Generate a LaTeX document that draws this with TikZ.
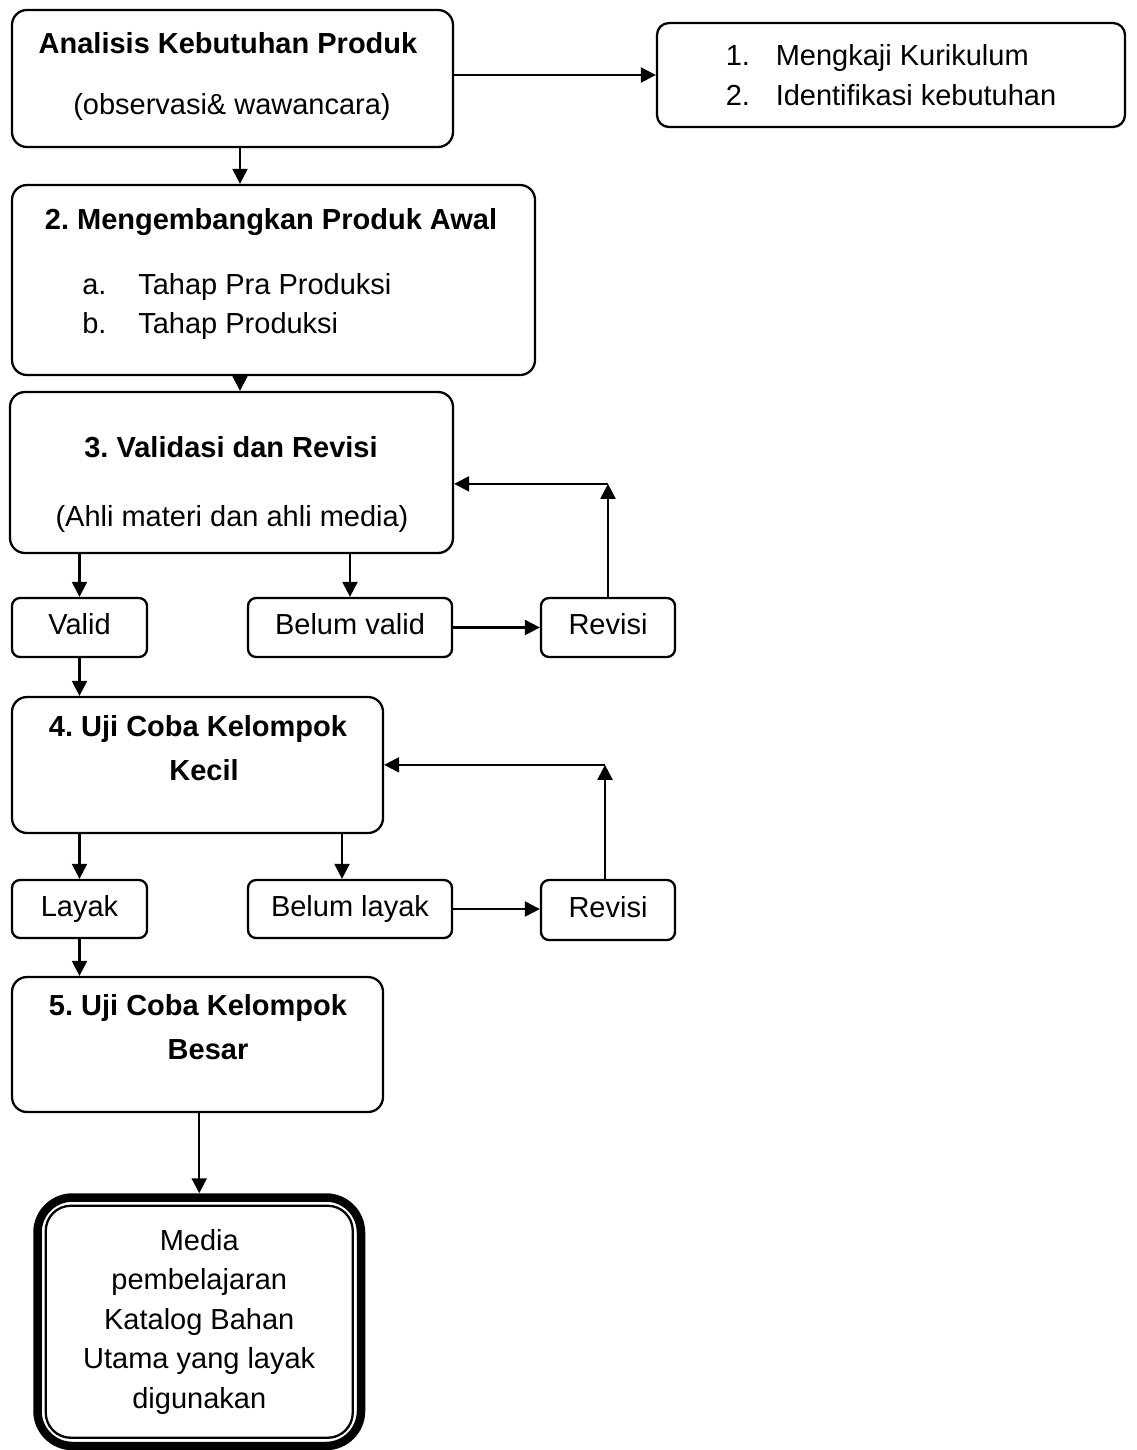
\documentclass[tikz,border=0pt]{standalone}
\usepackage{fontspec}
\setmainfont{Liberation Sans}
\usetikzlibrary{arrows.meta, positioning}

\tikzstyle{bigbox} = [rectangle, rounded corners=0.3cm, draw, line width=1.3pt, inner sep=0pt]
\tikzstyle{smallbox} = [rectangle, rounded corners=0.16cm, draw, line width=1.3pt, inner sep=0pt, text height=12pt, text depth=3.5pt]
\tikzstyle{final} = [rectangle, rounded corners=0.7cm, draw, line width=0.17cm, inner sep=0pt, align=center]
\tikzstyle{txt} = [anchor=base, inner sep=0pt]
\tikzstyle{arr} = [-{Triangle[length=0.3cm,width=0.3cm]}, line width=1.3pt]

\begin{document}
\frenchspacing
\begin{tikzpicture}[font=\fontsize{16.5}{22.5}\selectfont]
  \useasboundingbox (0,0) rectangle (22.74,-29);

  % 1. analisis
  \node[bigbox, minimum width=8.82cm, minimum height=2.74cm] (analisis) at (4.65,-1.57) {};
  \node[txt] (analisis1) at (4.56,-1.06) {\textbf{Analisis Kebutuhan Produk}};
  \node[txt] (analisis2) at (4.64,-2.28) {(observasi\& wawancara)};

  \node[bigbox, minimum width=9.36cm, minimum height=2.08cm, rounded corners=0.24cm, align=left] (kaji) at (17.82,-1.50)
    {\makebox[1cm][l]{1.}Mengkaji Kurikulum\\ \makebox[1cm][l]{2.}Identifikasi kebutuhan};

  % 2. produk awal
  \node[bigbox, minimum width=10.46cm, minimum height=3.80cm] (produk) at (5.47,-5.60) {};
  \node[txt] (produk1) at (5.42,-4.58) {\textbf{2. Mengembangkan Produk Awal}};
  \node[txt, anchor=base west] (produk2) at (1.64,-5.88) {\makebox[1.12cm][l]{a.}Tahap Pra Produksi};
  \node[txt, anchor=base west] (produk3) at (1.64,-6.66) {\makebox[1.12cm][l]{b.}Tahap Produksi};

  % 3. validasi
  \node[bigbox, minimum width=8.86cm, minimum height=3.22cm] (validasi) at (4.63,-9.45) {};
  \node[txt] (validasi1) at (4.62,-9.14) {\textbf{3. Validasi dan Revisi}};
  \node[txt] (validasi2) at (4.64,-10.52) {(Ahli materi dan ahli media)};

  \node[smallbox, minimum width=2.70cm, minimum height=1.18cm] (valid) at (1.59,-12.55) {Valid};
  \node[smallbox, minimum width=4.08cm, minimum height=1.18cm] (belumvalid) at (7.00,-12.55) {Belum valid};
  \node[smallbox, minimum width=2.68cm, minimum height=1.18cm] (revisi1) at (12.16,-12.55) {Revisi};

  % 4. kelompok kecil
  \node[bigbox, minimum width=7.42cm, minimum height=2.72cm] (kecil) at (3.95,-15.30) {};
  \node[txt] (kecil1) at (3.96,-14.72) {\textbf{4. Uji Coba Kelompok}};
  \node[txt] (kecil2) at (4.08,-15.60) {\textbf{Kecil}};

  \node[smallbox, minimum width=2.70cm, minimum height=1.16cm] (layak) at (1.59,-18.18) {Layak};
  \node[smallbox, minimum width=4.08cm, minimum height=1.16cm] (belumlayak) at (7.00,-18.18) {Belum layak};
  \node[smallbox, minimum width=2.68cm, minimum height=1.20cm] (revisi2) at (12.16,-18.20) {Revisi};

  % 5. kelompok besar
  \node[bigbox, minimum width=7.42cm, minimum height=2.70cm] (besar) at (3.95,-20.89) {};
  \node[txt] (besar1) at (3.96,-20.30) {\textbf{5. Uji Coba Kelompok}};
  \node[txt] (besar2) at (4.16,-21.18) {\textbf{Besar}};

  % hasil
  \node[final, minimum width=6.47cm, minimum height=4.97cm] (media) at (3.985,-26.435)
    {Media\\pembelajaran\\Katalog Bahan\\Utama yang layak\\digunakan};
  \draw[line width=1.3pt, rounded corners=0.5cm] ([shift={(0.25,0.25)}]media.south west) rectangle ([shift={(-0.25,-0.25)}]media.north east);

  % panah
  \draw[arr] (analisis.east |- kaji.west) -- (kaji.west);
  \draw[arr] ([xshift=0.15cm]analisis.south) -- ([xshift=0.15cm]analisis.south |- produk.north);
  \draw[arr] ([xshift=0.17cm]validasi.north |- produk.south) -- ([xshift=0.17cm]validasi.north);
  \draw[arr] (valid.north |- validasi.south) -- (valid.north);
  \draw[arr] (belumvalid.north |- validasi.south) -- (belumvalid.north);
  \draw[arr] (belumvalid.east) -- (belumvalid.east -| revisi1.west);
  \coordinate (balik1) at ([yshift=2.26cm]revisi1.north);
  \draw[arr] (revisi1) -- (balik1);
  \draw[arr] (balik1) -- (balik1 -| validasi.east);
  \draw[arr] (valid) -- (valid |- kecil.north);

  \draw[arr] (layak.north |- kecil.south) -- (layak.north);
  \draw[arr] ([xshift=-0.16cm]belumlayak.north |- kecil.south) -- ([xshift=-0.16cm]belumlayak.north);
  \draw[arr] (belumlayak.east) -- (belumlayak.east -| revisi2.west);
  \coordinate (balik2) at ([xshift=-0.06cm, yshift=2.28cm]revisi2.north);
  \draw[arr] (revisi2.north -| balik2) -- (balik2);
  \draw[arr] (balik2) -- (balik2 -| kecil.east);
  \draw[arr] (layak) -- (layak |- besar.north);
  \draw[arr] (media.north |- besar.south) -- (media.north);
\end{tikzpicture}
\end{document}
